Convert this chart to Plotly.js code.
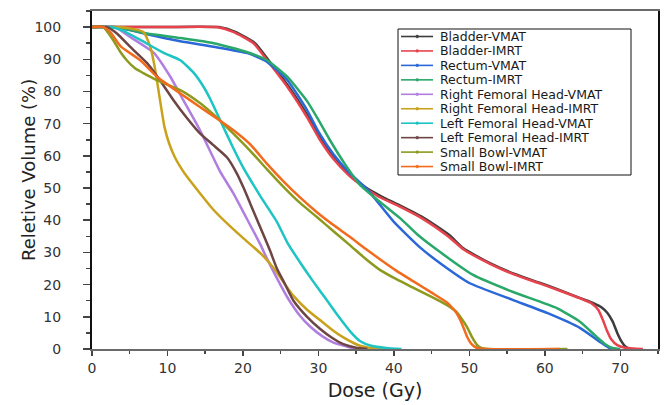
<!DOCTYPE html>
<html>
<head>
<meta charset="utf-8">
<script src="https://cdn.plot.ly/plotly-3.0.1.min.js"></script>
<style>html,body{margin:0;padding:0;background:#fff;}</style>
</head>
<body>
<div id="chart" style="width:664px;height:405px;"></div>
<script>
// ---- data ----
const seriesNames = ["Bladder-VMAT","Bladder-IMRT","Rectum-VMAT","Rectum-IMRT",
  "Right Femoral Head-VMAT","Right Femoral Head-IMRT","Left Femoral Head-VMAT",
  "Left Femoral Head-IMRT","Small Bowl-VMAT","Small Bowl-IMRT"];

const bladderVmatDose = [0,8,16.8,19,21.6,23.4,26.1,28.7,30.4,32.2,34.2,36.2,38.2,40.8,44,47.3,49.2,52.8,56,59.4,62,64.7,66.5,67.5,68.3,69,69.6,70.2,70.7,71.3];
const bladderVmatVol  = [100,100,100,98.5,95,89.7,81.4,72,65,59,54,50.3,47.6,44.6,40.7,35.5,31.3,26.6,23.3,20.5,18.3,15.8,14.2,13,11.2,8.5,5,2.2,0.7,0];

const bladderImrtDose = [0,8,16.5,18.7,21.4,23.2,25.9,28.5,30.2,32,34,36,38,40.8,44,47.3,49.2,52.8,56,59.4,62,64.7,66.3,67.1,67.7,68.2,68.8,69.6,70.6,73];
const bladderImrtVol  = [100,100,100,98.5,95,89.7,81.4,72,65,59,54,50.3,47.3,44.2,40.2,34.8,31,26.4,23.1,20.3,18.1,15.7,14,12.1,9,5.9,3,1.2,0.4,0];

const rectumVmatDose = [0,3,7.3,11.7,16.1,20.6,23.2,25.9,28.5,30,32,34,36.5,40,43.5,46.5,50,55.8,60.3,64.7,67.3,68.5,69.5];
const rectumVmatVol  = [100,100,97.8,95.6,93.9,91.9,89.2,83.5,74.2,67.5,60.5,55,49.5,39.5,31.5,26,20.5,15.2,11.2,6.5,2.2,0.4,0];

const rectumImrtDose = [0,2.9,7.3,11.7,16.1,20.6,23.2,25.9,28.5,29.8,31.5,33.5,35.5,38,40.9,43,45.5,50.5,55.8,61.6,64.7,66.9,68,69,70];
const rectumImrtVol  = [100,100,98,96.6,95,92.2,89.7,84.5,77,72,65,57.5,51,46,40.5,35.8,31.2,23,17.7,12.7,8.4,3.7,1.5,0.3,0];

const rfhVmatDose = [0,3,5,8.2,10.4,12.1,14.3,17,18.7,20.4,22.3,23.2,24.5,25.9,27.5,28.9,30.5,32,34.6,36];
const rfhVmatVol  = [100,100,97,92,84.5,77.3,68,55,48.5,41,32.5,28,22,16,10.5,7,4,2,0.3,0];

const rfhImrtDose = [0,3,5,6.8,7.7,8.2,8.6,9.1,9.6,10.2,11,12,12.6,14.3,16,17.9,20,22.3,23.5,24.5,25.6,26.7,28.5,30.2,31.8,33.3,35.5,37,38.5];
const rfhImrtVol  = [100,100,99.6,98.5,94,89,83.5,76,69,64,59.5,55.5,53.5,48.4,43.5,39,34.5,29.8,26.8,23.8,20,16.5,12.2,9,6,3.6,1,0.3,0];

const lfhVmatDose = [0,2.5,4,6.4,9.5,11.7,13.4,14.8,15.7,17,18.7,20,21,22.3,24.5,25.9,27.6,29.3,31.1,32.7,34.2,35.5,37,39,41];
const lfhVmatVol  = [100,100,99,96,92,89.7,86,81.4,77.5,71,62.5,56.5,52.5,47.5,39.5,33,26.8,21,15.2,10,5.5,2.5,1,0.3,0];

const lfhImrtDose = [0,2,3.3,5,7.3,9,10.8,12.5,14.3,16,17.9,19.2,20.1,21,21.9,22.8,23.6,24.5,25.5,26.7,28.5,30.2,31.8,33.3,35,36.5];
const lfhImrtVol  = [100,100,98,94,88.8,83.5,77.3,72,67,63.5,59.5,54.5,50,45,40,35,30.5,25,20.5,15,10,6.3,3.5,1.5,0.4,0];

const sbVmatDose = [0,1.5,2.8,3.7,4.6,5.7,6.8,8.6,11.7,14.3,16.5,18.7,21,23.2,25.4,27.6,29.8,32,34.2,36.2,38.2,40.4,42.6,45,47,48.3,49,49.7,50.4,51,51.6,52.5,63];
const sbVmatVol  = [100,100,96,92.5,89.7,87.2,85.7,83.5,80.4,76.4,72,67,61.5,55.8,50.3,45.3,41,36.6,32.2,28.1,24.5,21.6,19,16.2,13.7,11.5,9.3,6.8,3.5,1.3,0.3,0,0];

const sbImrtDose = [0,1.5,2.4,3.8,6.4,8.6,11.7,14.3,16.6,19,21,23.2,25.4,27.6,29.8,32,34.2,36.2,38.2,40.4,42.6,45,47,47.7,48.3,48.8,49.3,49.7,50.3,51,52,62];
const sbImrtVol  = [100,100,98.5,94,89.7,84.6,79.4,75.2,71.5,67.5,63.5,57.5,52,47,42.5,38.5,34.8,31.2,27.8,24.2,21,17.5,14.5,12.9,11.2,9,6.2,3.8,1.5,0.3,0,0];

const xTickVals = [0,10,20,30,40,50,60,70];
const yTickVals = [0,10,20,30,40,50,60,70,80,90,100];

// ---- styling ----
const seriesColors = ["#3d3d3d","#e8434c","#2a68d8","#2aa86a","#b07ee0",
  "#c9a21c","#1ec4c4","#6e4545","#8c9a1e","#f26b1d"];

const doses = [bladderVmatDose,bladderImrtDose,rectumVmatDose,rectumImrtDose,rfhVmatDose,
  rfhImrtDose,lfhVmatDose,lfhImrtDose,sbVmatDose,sbImrtDose];
const vols = [bladderVmatVol,bladderImrtVol,rectumVmatVol,rectumImrtVol,rfhVmatVol,
  rfhImrtVol,lfhVmatVol,lfhImrtVol,sbVmatVol,sbImrtVol];

const traces = seriesNames.map((n,i)=>({
  type:"scatter", mode:"lines", name:n, x:doses[i], y:vols[i],
  line:{color:seriesColors[i], width:2.5, shape:"spline", smoothing:0.5},
  showlegend:false, hoverinfo:"skip"
}));

const W=664, H=405, mL=92, mR=6, mT=11, mB=56;
const pw = W-mL-mR, ph = H-mT-mB;
const px = v => (v-mL)/pw;
const py = v => (H-mB-v)/ph;

const shapes = [{type:"rect", xref:"paper", yref:"paper",
  x0:px(398), x1:px(631), y0:py(175), y1:py(29),
  line:{color:"#111", width:1}, fillcolor:"rgba(255,255,255,0)"}];
const annotations = [];
const legTop = 36.5, legStep = 14.45;
seriesNames.forEach((n,i)=>{
  const yy = legTop + legStep*i;
  shapes.push({type:"line", xref:"paper", yref:"paper", x0:px(401), x1:px(433), y0:py(yy), y1:py(yy),
    line:{color:seriesColors[i], width:1.6}});
  shapes.push({type:"circle", xref:"paper", yref:"paper", x0:px(415.8), x1:px(418.6), y0:py(yy+1.4), y1:py(yy-1.4),
    line:{color:seriesColors[i], width:0.5}, fillcolor:seriesColors[i]});
  annotations.push({xref:"paper", yref:"paper", x:px(439), y:py(yy), text:n, showarrow:false,
    xanchor:"left", yanchor:"middle", borderpad:0,
    font:{family:"DejaVu Sans", size:12.5, color:"#1a1a1a"}});
});
// y-axis title placed as rotated text
annotations.push({xref:"paper", yref:"paper", x:px(28), y:py(170), text:"Reletive Volume (%)",
  textangle:-90, showarrow:false, xanchor:"center", yanchor:"middle",
  font:{family:"DejaVu Sans", size:18, color:"#222"}});

const layout = {
  width:W, height:H,
  margin:{l:mL, r:mR, t:mT, b:mB, pad:0},
  paper_bgcolor:"#fff", plot_bgcolor:"#fff",
  showlegend:false,
  font:{family:"DejaVu Sans", color:"#333"},
  xaxis:{
    range:[0,75], tickvals:xTickVals, ticktext:xTickVals.map(String),
    ticks:"outside", ticklen:5, tickwidth:1.5, tickcolor:"#444",
    minor:{dtick:5, tick0:0, ticks:"outside", ticklen:3, tickwidth:1.5, tickcolor:"#444"},
    showgrid:false, zeroline:false,
    showline:true, linecolor:"#6a6a6a", linewidth:2, mirror:true,
    tickfont:{family:"DejaVu Sans", size:14, color:"#333"},
    title:{text:"Dose (Gy)", font:{family:"DejaVu Sans", size:19, color:"#222"}, standoff:9},
    layer:"below traces"
  },
  yaxis:{
    range:[0,105], tickvals:yTickVals, ticktext:yTickVals.map(String),
    ticks:"outside", ticklen:7, tickwidth:1.5, tickcolor:"#444",
    minor:{dtick:5, tick0:0, ticks:"outside", ticklen:4, tickwidth:1.5, tickcolor:"#444"},
    showgrid:false, zeroline:false,
    showline:true, linecolor:"#111", linewidth:2, mirror:true,
    tickfont:{family:"DejaVu Sans", size:14, color:"#333"},
    ticklabelstandoff:19,
    layer:"below traces"
  },
  shapes:shapes, annotations:annotations
};

Plotly.newPlot("chart", traces, layout, {displayModeBar:false, staticPlot:true});
</script>
</body>
</html>
